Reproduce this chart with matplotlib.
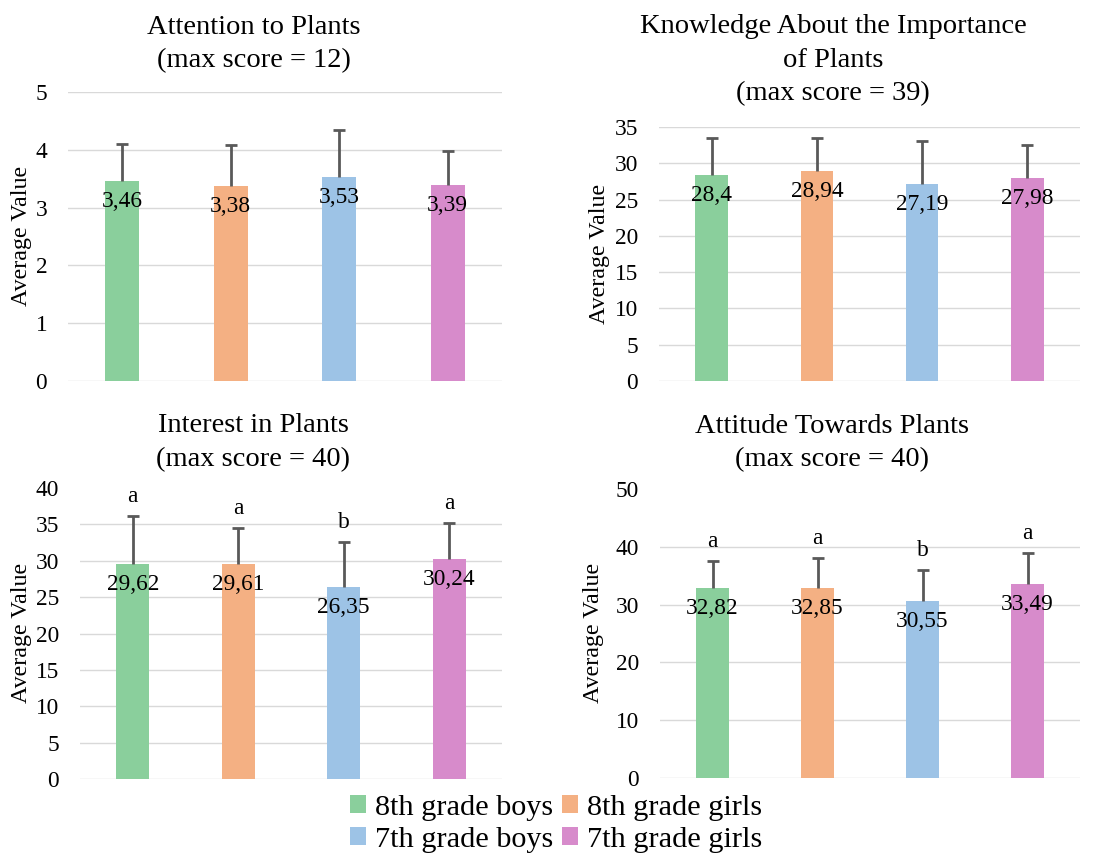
import matplotlib
matplotlib.use("Agg")
import matplotlib.pyplot as plt
from matplotlib.patches import Patch

# ---------------- data ----------------
groups = ["8th grade boys", "8th grade girls", "7th grade boys", "7th grade girls"]
colors = ["#8ACF9C", "#F4B083", "#9DC3E6", "#D78BCB"]

attention = [3.46, 3.38, 3.53, 3.39]
attention_sd = [0.64, 0.70, 0.81, 0.59]

knowledge = [28.40, 28.94, 27.19, 27.98]
knowledge_sd = [5.1, 4.5, 5.9, 4.6]

interest = [29.62, 29.61, 26.35, 30.24]
interest_sd = [6.5, 4.9, 6.25, 5.0]
interest_letters = ["a", "a", "b", "a"]

attitude = [32.82, 32.85, 30.55, 33.49]
attitude_sd = [4.8, 5.2, 5.45, 5.5]
attitude_letters = ["a", "a", "b", "a"]

titles = [
    ["Attention to Plants", "(max score = 12)"],
    ["Knowledge About the Importance", "of Plants", "(max score = 39)"],
    ["Interest in Plants", "(max score = 40)"],
    ["Attitude Towards Plants", "(max score = 40)"],
]

# ---------------- style ----------------
plt.rcParams["font.family"] = ["Liberation Serif", "DejaVu Serif"]
W, H = 1094, 867
fig = plt.figure(figsize=(W / 100, H / 100), dpi=100)

TICK_FS = 16.8
TITLE_FS = 20.5
ERR_COLOR = "#595959"
GRID_COLOR = "#D9D9D9"


def add_ax(l, r, top, bot):
    return fig.add_axes([l / W, 1 - bot / H, (r - l) / W, (bot - top) / H])


def panel(ax, vals, sds, ymax, ystep, letters=None, top_grid=True):
    x = list(range(len(vals)))
    ticks = list(range(0, ymax + 1, ystep))
    grid_ticks = ticks if top_grid else ticks[:-1]
    for t in grid_ticks:
        ax.axhline(t, color=GRID_COLOR, linewidth=1, zorder=0)
    ax.bar(x, vals, width=0.31, color=colors, zorder=2)
    eb = ax.errorbar(x, vals, yerr=[[0] * len(sds), sds], fmt="none",
                     ecolor=ERR_COLOR, elinewidth=2, capsize=4, capthick=2,
                     zorder=3)
    caplines = eb.lines[1]
    if len(caplines) >= 2:
        caplines[0].set_visible(False)
    for xi, v in zip(x, vals):
        ax.annotate(f"{v:g}".replace(".", ","), (xi, v), xytext=(0, -26),
                    textcoords="offset pixels", ha="center", va="baseline",
                    fontsize=TICK_FS, color="black", zorder=4)
    if letters is not None:
        for xi, v, s, lt in zip(x, vals, sds, letters):
            ax.annotate(lt, (xi, v + s), xytext=(0, 14),
                        textcoords="offset pixels", ha="center", va="baseline",
                        fontsize=TICK_FS, color="black")
    ax.set_xlim(-0.5, len(vals) - 0.5)
    ax.set_ylim(0, ymax)
    ax.set_yticks(ticks)
    ax.set_xticks([])
    ax.tick_params(axis="y", length=0, pad=15, labelsize=TICK_FS)
    for sp in ax.spines.values():
        sp.set_visible(False)


ax1 = add_ax(68, 502, 92, 381)
panel(ax1, attention, attention_sd, 5, 1)
ax2 = add_ax(659, 1080, 127, 381)
panel(ax2, knowledge, knowledge_sd, 35, 5)
ax3 = add_ax(80, 502, 488, 779)
panel(ax3, interest, interest_sd, 40, 5, interest_letters, top_grid=False)
ax4 = add_ax(660, 1080, 489, 778)
panel(ax4, attitude, attitude_sd, 50, 10, attitude_letters, top_grid=False)

# y labels
for (xc, yc) in [(22, 236), (600, 254), (22, 633), (593, 633)]:
    fig.text(xc / W, 1 - yc / H, "Average Value", rotation=90, ha="center",
             va="center", fontsize=17.3)

# titles (line by line)
title_pos = [
    (254, [34, 67]),
    (833, [33, 67, 100]),
    (253, [432, 466]),
    (832, [433, 466]),
]
for lines, (xc, baselines) in zip(titles, title_pos):
    for line, yb in zip(lines, baselines):
        fig.text(xc / W, 1 - yb / H, line, ha="center", va="baseline",
                 fontsize=TITLE_FS)

# legend
order = [0, 2, 1, 3]
handles = [Patch(facecolor=colors[i], edgecolor="none") for i in order]
labels = [groups[i] for i in order]
fig.legend(handles, labels, ncol=2, loc="center",
           bbox_to_anchor=(556 / W, 1 - 824 / H), frameon=False,
           fontsize=21.8, handlelength=0.52, handleheight=0.52,
           handletextpad=0.3, columnspacing=0.3, labelspacing=0.2,
           borderpad=0)

fig.savefig("out.png", dpi=100)
